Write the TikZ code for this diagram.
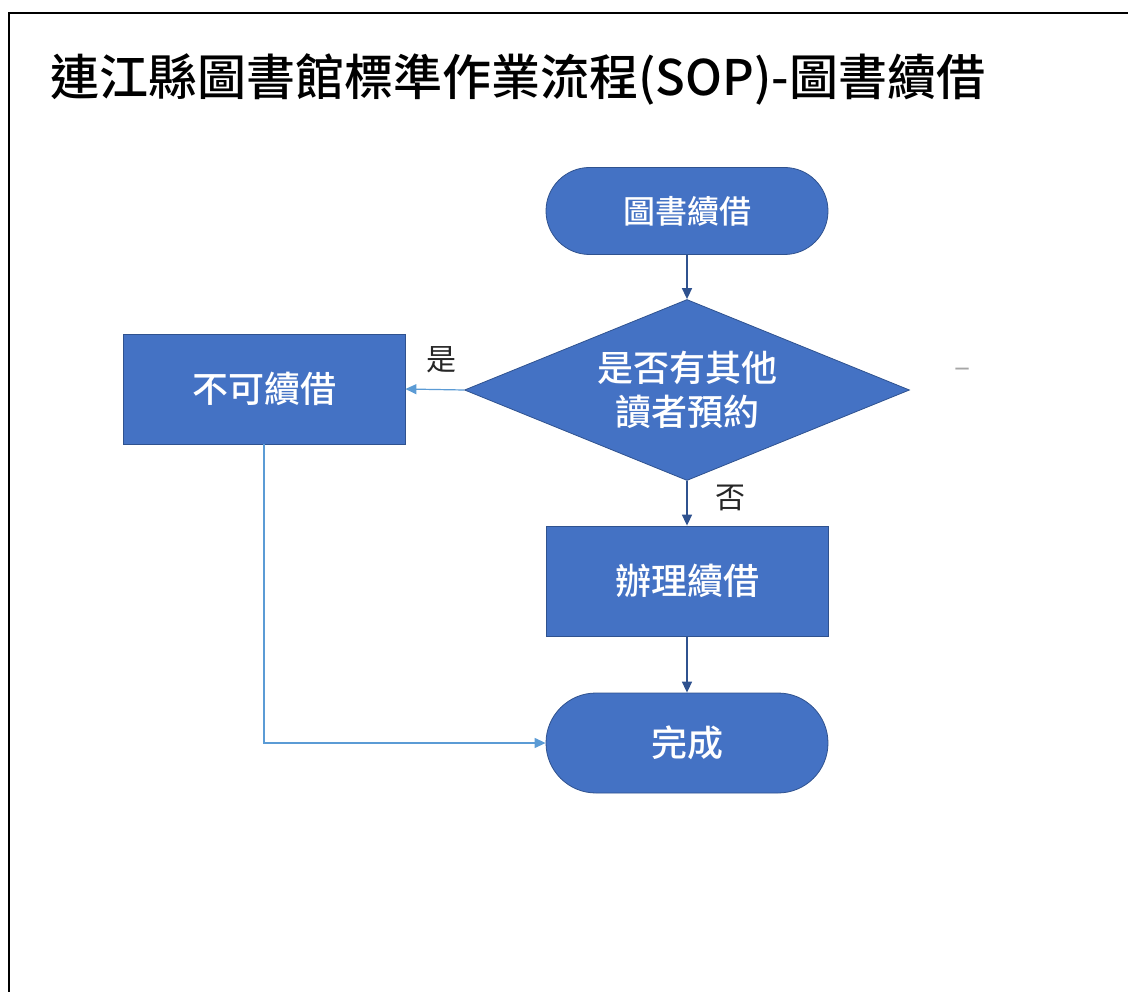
\documentclass[tikz,border=0pt]{standalone}
\usepackage{fontspec}
\setmainfont{Noto Sans CJK TC}
\newfontfamily\medfont{Noto Sans CJK TC}[UprightFont=* Medium]
\usetikzlibrary{arrows.meta,shapes.geometric}
\definecolor{boxblue}{HTML}{4472C4}
\definecolor{boxline}{HTML}{2F528F}
\definecolor{yesline}{HTML}{5B9BD5}
\definecolor{labgrey}{HTML}{262626}
\def\boxfont{\medfont\fontsize{36}{44}\selectfont}
\begin{document}
\begin{tikzpicture}[x=1pt,y=-1pt,
				terminal/.style={rectangle,rounded corners=#1,draw=boxline,fill=boxblue,line width=0.8pt,minimum width=282pt,minimum height=2*#1,text=white,font=\boxfont,inner sep=0pt},
				process/.style={rectangle,draw=boxline,fill=boxblue,line width=0.8pt,minimum width=282pt,minimum height=110pt,text=white,font=\boxfont,inner sep=0pt},
				decision/.style={diamond,draw=boxline,fill=boxblue,line width=0.8pt,shape aspect=2.46,minimum width=445pt,minimum height=181pt,text=white,font=\boxfont,align=center,inner sep=0pt},
				flow/.style={-{Triangle[length=11pt,width=10pt]},draw=boxline,line width=1.6pt},
				yes/.style={-{Triangle[length=11pt,width=10pt]},draw=yesline,line width=1.2pt},
				lab/.style={text=labgrey,font=\fontsize{30}{36}\selectfont,inner sep=0pt}]
				\useasboundingbox (0,0) rectangle (1128,992);
				\draw [line width=2.2pt] (9,992) -- (9,13) -- (1128,13);
				\node [anchor=west,inner sep=0pt,font=\medfont\fontsize{49}{58}\selectfont] (title) at (50,79) {連江縣圖書館標準作業流程(SOP)-圖書續借};
				\node [terminal=43.5pt,font=\medfont\fontsize{32}{40}\selectfont] (start) at (687,211) {圖書續借};
				\node [decision] (ask) at (687,390) {是否有其他\\讀者預約};
				\node [process] (nogo) at (264,389) {不可續借};
				\node [process] (renew) at (687,581) {辦理續借};
				\node [terminal=50pt] (done) at (687,743) {完成};
				\node [lab] (yeslab) at (441,360) {是};
				\node [lab] (nolab) at (730,498) {否};
				\node [lab,text=gray!70] (dash) at (963,373) {–};
				\draw [flow] (start) -- (ask);
				\draw [yes] (ask.west) -- (nogo.east);
				\draw [flow] (ask.south) -- (renew.north);
				\draw [flow] (renew) -- (done);
				\draw [yes] (nogo.south) |- (done.west);
\end{tikzpicture}
\end{document}
